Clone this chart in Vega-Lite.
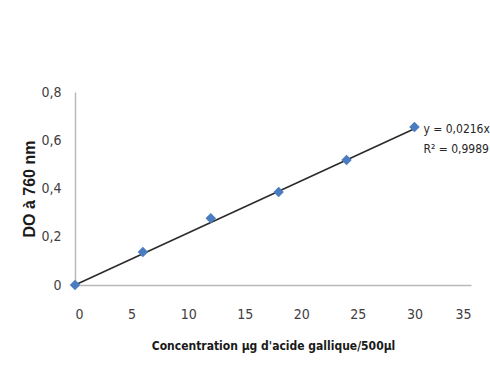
{
  "$schema": "https://vega.github.io/schema/vega-lite/v6.json",
  "autosize": "none",
  "width": 396,
  "height": 193,
  "padding": {"left": 75, "top": 92, "right": 19, "bottom": 105},
  "background": "white",
  "config": {
    "locale": {"number": {"decimal": ",", "thousands": " ", "grouping": [3], "currency": ["", " €"]}},
    "view": {"stroke": null},
    "font": "DejaVu Sans Condensed, Liberation Sans, sans-serif",
    "axis": {
      "grid": false,
      "ticks": false,
      "domainColor": "#b8b8b8",
      "domainWidth": 1.5,
      "labelFont": "DejaVu Sans Condensed, Liberation Sans, sans-serif",
      "labelFontSize": 14,
      "labelColor": "#404040",
      "titleColor": "#1a1a1a"
    }
  },
  "datasets": {
    "pts": [
      {"c": 0, "do": 0},
      {"c": 6, "do": 0.137},
      {"c": 12, "do": 0.277},
      {"c": 18, "do": 0.385},
      {"c": 24, "do": 0.518},
      {"c": 30, "do": 0.655}
    ],
    "fit": [
      {"c": 0, "do": 0},
      {"c": 30, "do": 0.648}
    ],
    "eq": [
      {"c": 30, "do": 0.655, "t1": "y = 0,0216x", "t2": "R² = 0,9989"}
    ]
  },
  "layer": [
    {
      "data": {"name": "fit"},
      "mark": {"type": "line", "color": "#2b2b2b", "strokeWidth": 1.6},
      "encoding": {
        "x": {
          "field": "c", "type": "quantitative",
          "scale": {"domain": [0, 35], "nice": false},
          "axis": {
            "values": [0, 5, 10, 15, 20, 25, 30, 35],
            "labelPadding": 22,
            "title": "Concentration µg d'acide gallique/500µl",
            "titleFont": "DejaVu Sans Condensed, Liberation Sans, sans-serif",
            "titleFontSize": 12,
            "titleFontWeight": "bold",
            "titlePadding": 19
          }
        },
        "y": {
          "field": "do", "type": "quantitative",
          "scale": {"domain": [0, 0.8], "nice": false},
          "axis": {
            "values": [0, 0.2, 0.4, 0.6, 0.8],
            "format": ".1~f",
            "labelPadding": 14,
            "title": "DO à 760 nm",
            "titleFont": "Liberation Sans, sans-serif",
            "titleFontSize": 16,
            "titleFontWeight": "bold",
            "titlePadding": 3
          }
        }
      }
    },
    {
      "data": {"name": "pts"},
      "mark": {"type": "point", "shape": "diamond", "filled": true, "color": "#4a7cc0", "size": 110, "opacity": 1},
      "encoding": {
        "x": {"field": "c", "type": "quantitative"},
        "y": {"field": "do", "type": "quantitative"}
      }
    },
    {
      "data": {"name": "eq"},
      "mark": {"type": "text", "align": "left", "baseline": "middle", "dx": 9, "dy": 2, "fontSize": 12, "color": "#262626", "font": "DejaVu Sans Condensed, Liberation Sans, sans-serif"},
      "encoding": {
        "x": {"field": "c", "type": "quantitative"},
        "y": {"field": "do", "type": "quantitative"},
        "text": {"field": "t1"}
      }
    },
    {
      "data": {"name": "eq"},
      "mark": {"type": "text", "align": "left", "baseline": "middle", "dx": 9, "dy": 22, "fontSize": 12, "color": "#262626", "font": "DejaVu Sans Condensed, Liberation Sans, sans-serif"},
      "encoding": {
        "x": {"field": "c", "type": "quantitative"},
        "y": {"field": "do", "type": "quantitative"},
        "text": {"field": "t2"}
      }
    }
  ]
}
